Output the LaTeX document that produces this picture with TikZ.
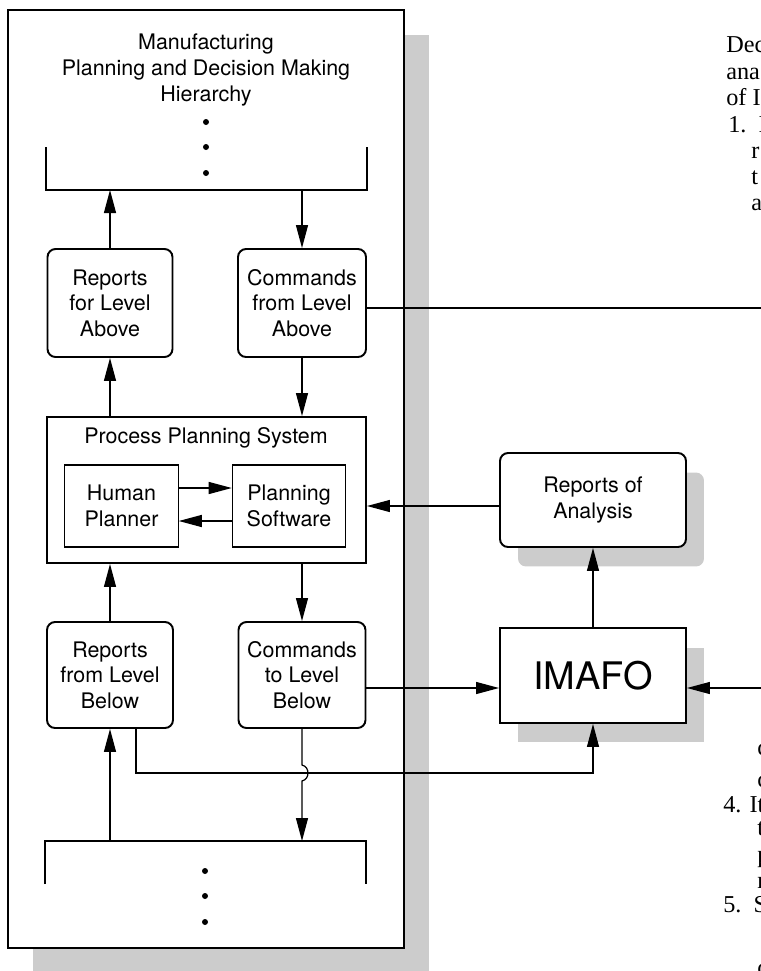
\documentclass[tikz,border=0pt]{standalone}
\usepackage{fontspec}
\setmainfont{TeX Gyre Heros}
\newfontfamily\bodyserif{Liberation Serif}
\usetikzlibrary{arrows.meta,shadows}

\tikzset{
  every node/.style={font=\fontsize{12.2pt}{14.6pt}\selectfont, align=center},
  block/.style={draw, line width=1.1pt, rounded corners=0.16cm, fill=white, inner sep=0pt},
  subbox/.style={draw, line width=0.6pt, fill=white, inner sep=0pt, minimum width=2.27cm, minimum height=1.64cm},
  flow/.style={line width=0.7pt, -{Triangle[length=0.46cm,width=0.24cm]}},
  link/.style={line width=0.7pt},
  boxshadow/.style={drop shadow={shadow xshift=0.36cm, shadow yshift=-0.39cm, fill=gray!40, opacity=1}},
  pagetext/.style={font=\bodyserif\fontsize{13.8pt}{16pt}\selectfont, anchor=base west, inner sep=0pt, align=left}
}

\begin{document}
\begin{tikzpicture}[x=0.02cm, y=-0.02cm]
	\useasboundingbox (0,0) rectangle (761,971);

	% outer frame of the hierarchy
	\draw[line width=1.2pt, fill=white, drop shadow={shadow xshift=0.5cm, shadow yshift=-0.5cm, fill=gray!40, opacity=1}] (8,10) rectangle (404,948);

	\node (title) at (206,70) {Manufacturing\\Planning and Decision Making\\Hierarchy};
	\foreach \y in {122,147,173} \fill (206,\y) circle[radius=0.06cm];
	\draw[line width=1.1pt] (46,147) -- (46,190) -- (367,190) -- (367,147);
	\coordinate (topbar) at (206,190);

	% boxes
	\node[block, minimum width=2.5cm, minimum height=2.16cm] (repabove) at (110,303) {Reports\\for Level\\Above};
	\node[block, minimum width=2.56cm, minimum height=2.16cm] (cmdabove) at (302,303) {Commands\\from Level\\Above};

	\node[draw, line width=1.1pt, fill=white, minimum width=6.38cm, minimum height=2.92cm] (pps) at (206.5,490) {};
	\node (ppstitle) at (206,438) {Process Planning System};
	\node[subbox] (human) at (121.5,506) {Human\\Planner};
	\node[subbox] (software) at (289,506) {Planning\\Software};

	\node[block, minimum width=2.52cm, minimum height=2.12cm] (repbelow) at (110,675) {Reports\\from Level\\Below};
	\node[block, minimum width=2.54cm, minimum height=2.12cm] (cmdbelow) at (302,675) {Commands\\to Level\\Below};

	\node[block, boxshadow, minimum width=3.72cm, minimum height=1.88cm] (analysis) at (593,500) {Reports of\\Analysis};
	\node[block, boxshadow, sharp corners, minimum width=3.72cm, minimum height=1.9cm, font=\fontsize{21.6pt}{24pt}\selectfont] (imafo) at (593,675.5) {IMAFO};

	\draw[line width=1.1pt] (45,884) -- (45,841) -- (366,841) -- (366,884);
	\coordinate (lowbar) at (206,841);
	\foreach \y in {871,896,922} \fill (205,\y) circle[radius=0.06cm];

	% connectors
	\draw[flow] (repabove.north) -- (repabove.north |- topbar);
	\draw[flow] (cmdabove.north |- topbar) -- (cmdabove.north);
	\draw[flow] (pps.north -| repabove) -- (repabove.south);
	\draw[flow] (cmdabove.south) -- (cmdabove.south |- pps.north);
	\draw[flow] ([yshift=0.36cm]human.east) -- ([yshift=0.36cm]software.west);
	\draw[flow] ([yshift=-0.3cm]software.west) -- ([yshift=-0.3cm]human.east);
	\draw[flow] (repbelow.north) -- (repbelow.north |- pps.south);
	\draw[flow] (cmdbelow.north |- pps.south) -- (cmdbelow.north);
	\draw[flow] (lowbar -| repbelow) -- (repbelow.south);
	\draw[flow] (cmdbelow.south) -- (302,765) .. controls (310,767) and (310,779) .. (302,781) -- (cmdbelow.south |- lowbar);

	\coordinate (outhigh) at (761,308);
	\coordinate (outlow) at (761,688);
	\draw[link] (cmdabove.east |- outhigh) -- (outhigh);
	\draw[flow] (analysis.west |- 0,506) -- (pps.east |- 0,506);
	\draw[flow] (cmdbelow.east |- outlow) -- (imafo.west |- outlow);
	\draw[flow] (outlow) -- (imafo.east |- outlow);
	\draw[flow] (imafo.north) -- (analysis.south);
	\draw[flow] (repbelow.south -| 136,0) -- (136,773) -- (imafo.south |- 0,773) -- (imafo.south);

	% page text at the right margin
	\node[pagetext] (t1) at (726,52) {Dec};
	\node[pagetext] (t2) at (726,79) {ana};
	\node[pagetext] (t3) at (726,105) {of I};
	\node[pagetext] (t4) at (728,132) {1.\ \ I};
	\node[pagetext] (t5) at (751,158) {r};
	\node[pagetext] (t6) at (751,184) {t};
	\node[pagetext] (t7) at (751,210) {a};
	\node[pagetext] (t8) at (757,755) {c};
	\node[pagetext] (t9) at (757,787) {c};
	\node[pagetext] (t10) at (723,812) {4. It};
	\node[pagetext] (t11) at (757,835) {t};
	\node[pagetext] (t12) at (757,862) {p};
	\node[pagetext] (t13) at (757,888) {r};
	\node[pagetext] (t14) at (723,912) {5.\ \ S};
	\node[pagetext] (t15) at (757,975) {c};
\end{tikzpicture}
\end{document}
